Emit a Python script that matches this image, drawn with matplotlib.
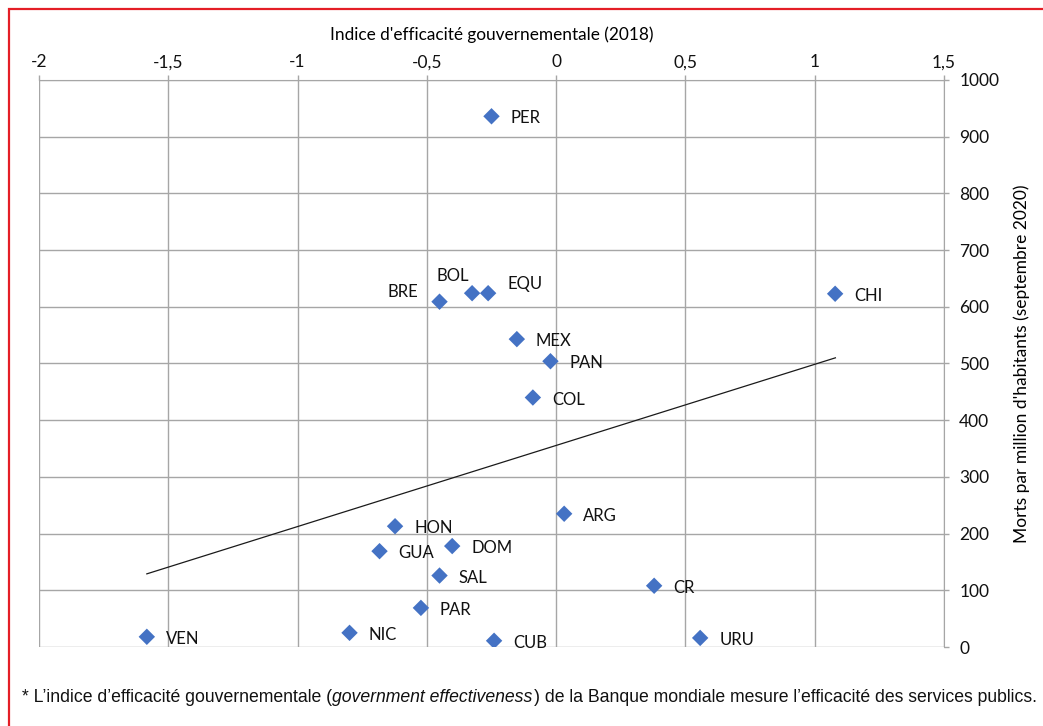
import matplotlib
matplotlib.use('Agg')
import matplotlib.pyplot as plt
from matplotlib.patches import Rectangle
from matplotlib.ticker import FuncFormatter

# Data
countries = ['PER', 'BOL', 'EQU', 'BRE', 'MEX', 'PAN', 'COL', 'CHI', 'ARG', 'HON',
             'GUA', 'DOM', 'SAL', 'PAR', 'VEN', 'NIC', 'CUB', 'CR', 'URU']
gov_eff = [-0.25, -0.325, -0.263, -0.451, -0.152, -0.022, -0.09, 1.079, 0.031, -0.623,
           -0.683, -0.402, -0.451, -0.523, -1.583, -0.799, -0.24, 0.379, 0.557]
deaths = [936, 624, 624, 609, 543, 504, 440, 623, 235, 213,
          169, 178, 126, 69, 18, 25, 11, 108, 16]

# trend line end points
trend_x = [-1.583, 1.080]
trend_y = [129, 510]

x_ticks = [-2, -1.5, -1, -0.5, 0, 0.5, 1, 1.5]
y_ticks = [0, 100, 200, 300, 400, 500, 600, 700, 800, 900, 1000]

# label placement (pixels from marker), default is right of the marker
label_offsets = {'BOL': (-19, 17, 'center'), 'BRE': (-21, 10, 'right'), 'EQU': (19, 9, 'left')}

label_font = ['Lato', 'DejaVu Sans']
plt.rcParams['font.family'] = label_font

W, H = 1043, 726
fig = plt.figure(figsize=(W / 100, H / 100), dpi=100)
ax = fig.add_axes([39 / W, 1 - 647 / H, (944 - 39) / W, (647 - 80) / H])

ax.scatter(gov_eff, deaths, marker='D', s=70, color='#4472C4', edgecolors='none', zorder=4)
ax.plot(trend_x, trend_y, color='#1a1a1a', lw=0.9, zorder=3)

for name, xv, yv in zip(countries, gov_eff, deaths):
    dx, dy, ha = label_offsets.get(name, (19, -2, 'left'))
    ax.annotate(name, (xv, yv), xytext=(dx, dy), textcoords='offset pixels',
                ha=ha, va='center', fontsize=12, color='#111111', zorder=5)

ax.set_xlim(-2, 1.5)
ax.set_ylim(0, 1000)
ax.set_xticks(x_ticks)
ax.set_yticks(y_ticks)
fmt = FuncFormatter(lambda v, p: ('%g' % v).replace('.', ','))
ax.xaxis.set_major_formatter(fmt)
ax.xaxis.tick_top()
ax.xaxis.set_label_position('top')
ax.yaxis.tick_right()
ax.yaxis.set_label_position('right')
ax.tick_params(axis='both', colors='#a6a6a6', labelcolor='#111111', labelsize=12.5,
               length=3.5, width=1, direction='out')
ax.tick_params(axis='x', pad=3.5)
ax.tick_params(axis='y', pad=7.5)

ax.grid(True, color='#a6a6a6', lw=1)
ax.set_axisbelow(True)
for s in ['left', 'bottom']:
    ax.spines[s].set_visible(False)
for s in ['top', 'right']:
    ax.spines[s].set_color('#a6a6a6')

ax.set_xlabel("Indice d'efficacité gouvernementale (2018)", fontsize=12.4, labelpad=10)
ax.set_ylabel("Morts par million d'habitants (septembre 2020)", fontsize=12.5, labelpad=10)

# red frame (top and left visible)
fig.patches.append(Rectangle((9 / W, -0.5), 2.0, 1.5 - 9 / H, transform=fig.transFigure,
                             fill=False, edgecolor='#e41e26', lw=1.6))

# footnote with italic part
note_font = ['Liberation Sans Narrow', 'Liberation Sans', 'DejaVu Sans']
parts = [("* L’indice d’efficacité gouvernementale (", 'normal'),
         ("government effectiveness", 'italic'),
         (") de la Banque mondiale mesure l’efficacité des services publics.", 'normal')]
renderer = fig.canvas.get_renderer()
xpos = 22
for txt, st in parts:
    t = fig.text(xpos / W, 1 - 697 / H, txt, family=note_font, style=st, fontsize=12.7,
                 ha='left', va='center', color='#111111')
    bb = t.get_window_extent(renderer)
    xpos = bb.x1 + (1 if st == 'italic' else 0)

fig.savefig('out.png', dpi=100, facecolor='white')
